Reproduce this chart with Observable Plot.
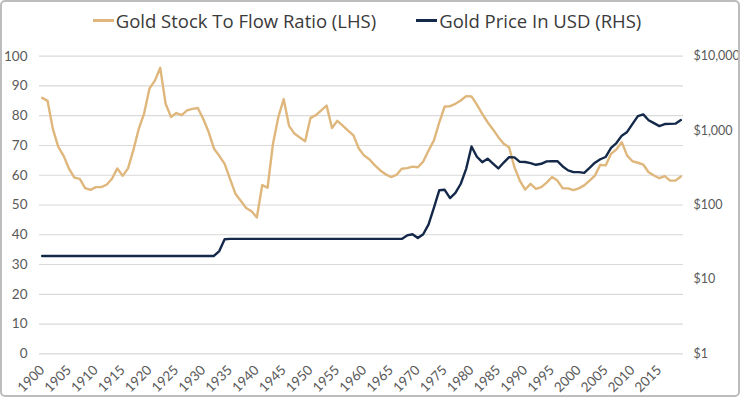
<!DOCTYPE html>
<html>
<head>
<meta charset="utf-8">
<script src="https://cdn.jsdelivr.net/npm/d3@7"></script>
<script src="https://cdn.jsdelivr.net/npm/@observablehq/plot@0.6"></script>
<style>
  html, body { margin: 0; padding: 0; background: #fff; }
  #wrap { position: relative; width: 740px; height: 397px; overflow: hidden; font-family: Lato, "Open Sans", sans-serif; }
  #wrap svg { position: absolute; left: 0; top: 0; }
  #frame { position: absolute; left: 0; top: 0; width: 740px; height: 397px; box-sizing: border-box; border: 2px solid #bdbdbd; border-radius: 5px; pointer-events: none; }
  #legend { position: absolute; top: 8px; left: 0; width: 734px; display: flex; justify-content: center; gap: 40px; font-family: "Open Sans", sans-serif; font-size: 18.5px; color: #3a3a3a; z-index: 2; }
  .item { display: flex; align-items: center; }
  .sw { display: inline-block; width: 21px; height: 3px; margin-right: 2px; }
</style>
</head>
<body>
<div id="wrap">
  <div id="legend">
    <div class="item"><span class="sw" style="background:#DFB77C"></span>Gold Stock To Flow Ratio (LHS)</div>
    <div class="item"><span class="sw" style="background:#14294A"></span>Gold Price In USD (RHS)</div>
  </div>
  <div id="frame"></div>
</div>
<script>
// Categories
const firstYear = 1900;
const lastYear = 2019;
const years = d3.range(firstYear, lastYear + 1);

// Gold stock-to-flow ratio (left axis), 1900..2019
const stockToFlow = [
  86, 85, 75.5, 69.5, 66.5, 62.2, 59.2, 58.8, 55.7, 55.1,
  56, 56, 56.8, 58.8, 62.3, 59.8, 62.3, 68.5, 75.6, 80.8,
  89.2, 91.8, 96.1, 84, 79.6, 80.9, 80.2, 81.8, 82.3, 82.6,
  79, 74.6, 69, 66.5, 63.8, 58.8, 53.8, 51.4, 49, 47.9,
  45.8, 56.7, 55.8, 70.5, 79.5, 85.6, 76.6, 74, 72.7, 71.4,
  79.3, 80.2, 81.8, 83.4, 75.9, 78.3, 76.7, 75, 73.4, 69,
  66.6, 65.3, 63.3, 61.6, 60.3, 59.4, 60.1, 62.2, 62.4, 62.9,
  62.7, 64.6, 68.3, 71.7, 77.8, 83.1, 83.2, 84, 85.1, 86.6,
  86.5, 83.7, 80.6, 77.8, 75.4, 72.8, 70.6, 69.4, 62.7, 58.2,
  55.2, 57.1, 55.4, 56, 57.5, 59.4, 58.2, 55.6, 55.6, 55,
  55.6, 56.6, 58.2, 59.9, 63.5, 63.3, 67.2, 68.7, 71.1, 66.6,
  64.7, 64.2, 63.6, 61, 59.9, 59, 59.7, 58.2, 58.2, 59.6
];

// Gold price in USD (right axis, log), 1900..2019
const goldPrice = [
  20.67, 20.67, 20.67, 20.67, 20.67, 20.67, 20.67, 20.67, 20.67, 20.67,
  20.67, 20.67, 20.67, 20.67, 20.67, 20.67, 20.67, 20.67, 20.67, 20.67,
  20.67, 20.67, 20.67, 20.67, 20.67, 20.67, 20.67, 20.67, 20.67, 20.67,
  20.67, 20.67, 20.67, 24, 34.7, 35, 35, 35, 35, 35,
  35, 35, 35, 35, 35, 35, 35, 35, 35, 35,
  35, 35, 35, 35, 35, 35, 35, 35, 35, 35,
  35, 35, 35, 35, 35, 35, 35, 35, 39, 40.5,
  36, 40.5, 55, 92, 158, 160, 124, 146, 193, 306,
  612, 445, 376, 420, 360, 310, 372, 440, 437, 380,
  378, 365, 347, 358, 386, 387, 388, 330, 292, 277,
  277, 270, 315, 370, 412, 442, 585, 680, 855, 960,
  1230, 1565, 1650, 1380, 1262, 1150, 1225, 1230, 1240, 1385
];

// Tick labels
const leftTicks = [0, 10, 20, 30, 40, 50, 60, 70, 80, 90, 100];
const rightTicks = [1, 10, 100, 1000, 10000];
const xTicks = [1900, 1905, 1910, 1915, 1920, 1925, 1930, 1935, 1940, 1945, 1950, 1955, 1960, 1965, 1970, 1975, 1980, 1985, 1990, 1995, 2000, 2005, 2010, 2015];

const data = years.map((year, i) => ({year, ratio: stockToFlow[i], price: goldPrice[i]}));

const common = {
  width: 740,
  height: 397,
  marginTop: 55.7,
  marginBottom: 43.7,
  marginLeft: 39,
  marginRight: 57
};

const left = Plot.plot({
  ...common,
  style: {fontFamily: "Lato, 'Open Sans', sans-serif", fontSize: "13.5px", color: "#595959", background: "transparent", overflow: "visible"},
  x: {domain: [firstYear - 0.5, lastYear + 0.5], ticks: xTicks, tickFormat: d => String(d), tickRotate: -45, tickSize: 0, tickPadding: 14, label: null},
  y: {domain: [0, 100], ticks: leftTicks, tickSize: 0, tickPadding: 12, label: null},
  marks: [
    Plot.gridY(leftTicks, {stroke: "#d9d9d9", strokeOpacity: 1, strokeWidth: 1.2}),
    Plot.line(data, {x: "year", y: "ratio", stroke: "#DFB77C", strokeWidth: 2.4, strokeLinejoin: "round", strokeLinecap: "round"})
  ]
});

const right = Plot.plot({
  ...common,
  style: {fontFamily: "Lato, 'Open Sans', sans-serif", fontSize: "12.5px", color: "#595959", background: "transparent", overflow: "visible"},
  x: {domain: [firstYear - 0.5, lastYear + 0.5], axis: null},
  y: {type: "log", domain: [1, 10000], axis: "right", ticks: rightTicks, tickSize: 0, tickPadding: 10, label: null, tickFormat: d => "$" + d3.format(",")(d)},
  marks: [
    Plot.line(data, {x: "year", y: "price", stroke: "#14294A", strokeWidth: 2.4, strokeLinejoin: "round", strokeLinecap: "round"})
  ]
});

const wrap = document.getElementById("wrap");
const legend = document.getElementById("legend");
wrap.insertBefore(left, legend);
wrap.insertBefore(right, legend);
</script>
</body>
</html>
